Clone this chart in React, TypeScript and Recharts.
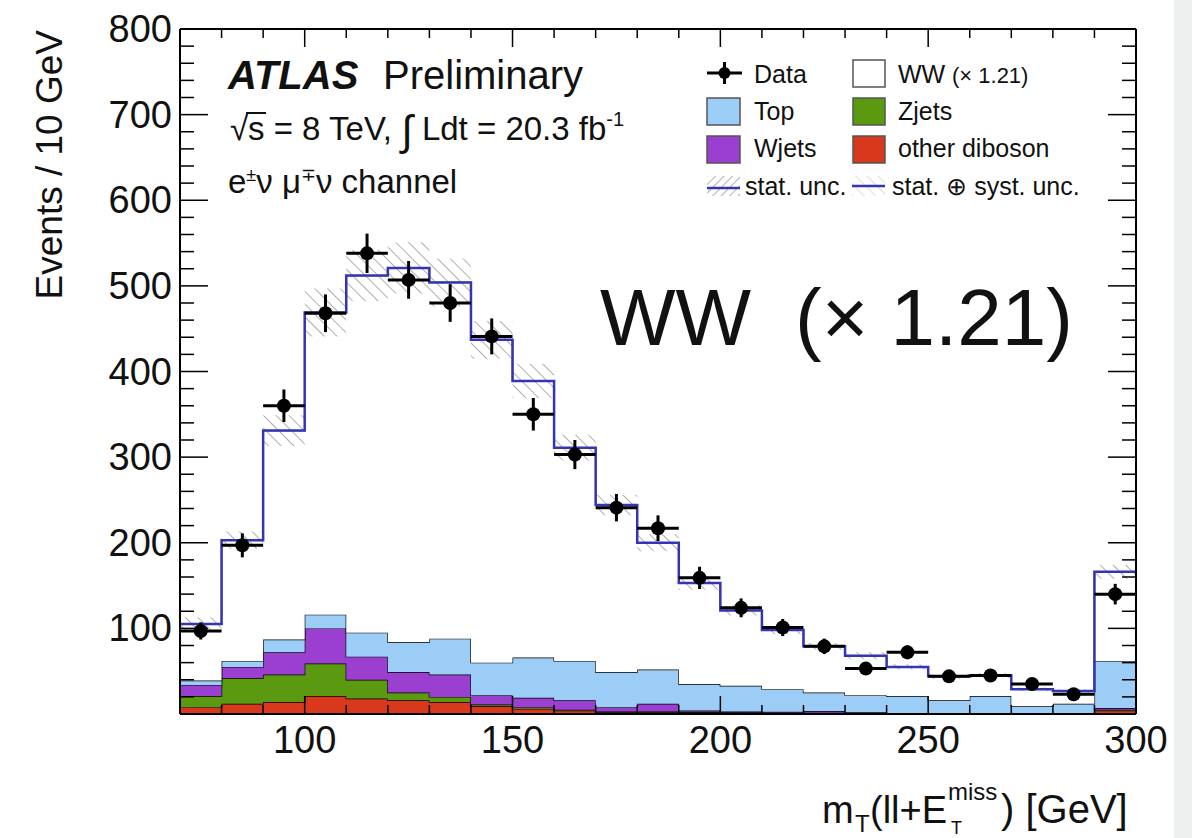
import React from 'react';
import { ComposedChart, Area, Line, Scatter, XAxis, YAxis, ErrorBar } from 'recharts';

const FONT = '"Liberation Sans", Arial, Helvetica, sans-serif';

// ---- data ----
const binLowEdges = [70, 80, 90, 100, 110, 120, 130, 140, 150, 160, 170, 180, 190, 200, 210, 220, 230, 240, 250, 260, 270, 280, 290];
const binCenters = [75, 85, 95, 105, 115, 125, 135, 145, 155, 165, 175, 185, 195, 205, 215, 225, 235, 245, 255, 265, 275, 285, 295];
const xUpperEdge = 300;
const dataCounts = [97, 197, 360, 468, 538, 507, 480, 441, 350, 303, 241, 217, 159, 124, 101, 79, 53, 72, 44, 45, 35, 23, 140];
const dataErrors = [10, 14, 19, 22, 23, 22, 22, 21, 19, 17, 16, 15, 13, 11, 10, 9, 7, 8, 7, 7, 6, 5, 12];
const dataHalfWidth = [5, 5, 5, 5, 5, 5, 5, 5, 5, 5, 5, 5, 5, 5, 5, 5, 5, 5, 5, 5, 5, 5, 5];
const otherDiboson = [8, 12, 14, 21, 18, 16, 14, 9, 6, 4, 2, 2, 2, 1.5, 1, 1, 1, 0.5, 0.5, 0.5, 0.5, 0.5, 4];
const zjets = [13, 30, 32, 38, 22, 9, 6, 2, 2, 1, 1, 1, 0.5, 0.5, 0.5, 0.5, 0, 0, 0, 0, 0, 0, 1];
const wjets = [13, 13, 26, 41, 27, 24, 26, 11, 11, 11, 5, 9, 1.5, 1, 1, 2, 1, 0.5, 0, 0, 0, 0, 2];
const topQuark = [5, 7, 15, 16, 28, 35, 42, 38, 47, 46, 41, 40, 31, 30, 26.5, 21.5, 20, 20, 15.5, 20.5, 8.5, 11.5, 55];
const wwScaled = [66, 141, 244, 353, 417, 437, 416, 377, 323, 249, 195, 148, 118, 88, 69, 54, 46, 34, 28, 24, 20, 15, 104];
const mcUncertainty = [8, 10, 18, 28, 30, 30, 28, 22, 20, 15, 12, 10, 8, 6, 5, 4, 4, 3, 3, 3, 2, 2, 8];

const xTicks = [70, 80, 90, 100, 110, 120, 130, 140, 150, 160, 170, 180, 190, 200, 210, 220, 230, 240, 250, 260, 270, 280, 290, 300];
const xMajorTicks = [100, 150, 200, 250, 300];
const yTicks = [0, 20, 40, 60, 80, 100, 120, 140, 160, 180, 200, 220, 240, 260, 280, 300, 320, 340, 360, 380, 400, 420, 440, 460, 480, 500, 520, 540, 560, 580, 600, 620, 640, 660, 680, 700, 720, 740, 760, 780, 800];
const yMajorTicks = [100, 200, 300, 400, 500, 600, 700, 800];

const COLORS = {
  top: '#9ccdf7',
  wjets: '#9a3fcf',
  zjets: '#5b9a10',
  dib: '#d8381c',
  line: '#3434b4',
};

// table the chart needs (step histogram: each low edge plus the last upper edge)
const histRows = [...binLowEdges, xUpperEdge].map((x, k) => {
  const i = Math.min(k, binLowEdges.length - 1);
  const total = otherDiboson[i] + zjets[i] + wjets[i] + topQuark[i] + wwScaled[i];
  return {
    x,
    dib: otherDiboson[i],
    zj: zjets[i],
    wj: wjets[i],
    top: topQuark[i],
    ww: wwScaled[i],
    total,
    band: [total - mcUncertainty[i], total + mcUncertainty[i]],
  };
});

const dataPoints = binCenters.map((x, i) => ({ x, y: dataCounts[i], ey: dataErrors[i], ex: dataHalfWidth[i] }));

// ---- ticks (ROOT style, inward) ----
const BottomTick = (p: any) => {
  const v = p.payload.value;
  const major = xMajorTicks.includes(v);
  return (
    <g>
      <line x1={p.x} x2={p.x} y1={p.y} y2={p.y - (major ? 18 : 9)} stroke="#000" strokeWidth={1.5} />
      {major && (
        <text x={p.x} y={p.y + 39} textAnchor="middle" fontSize={38} fontFamily={FONT} fill="#111">
          {v}
        </text>
      )}
    </g>
  );
};
const TopTick = (p: any) => {
  const v = p.payload.value;
  const major = xMajorTicks.includes(v);
  return <line x1={p.x} x2={p.x} y1={p.y} y2={p.y + (major ? 18 : 9)} stroke="#000" strokeWidth={1.5} />;
};
const LeftTick = (p: any) => {
  const v = p.payload.value;
  const major = yMajorTicks.includes(v);
  return (
    <g>
      <line x1={p.x} x2={p.x + (major ? 28 : 14)} y1={p.y} y2={p.y} stroke="#000" strokeWidth={1.5} />
      {major && (
        <text x={p.x - 8} y={p.y + 13} textAnchor="end" fontSize={38} fontFamily={FONT} fill="#111">
          {v}
        </text>
      )}
    </g>
  );
};
const RightTick = (p: any) => {
  const v = p.payload.value;
  const major = yMajorTicks.includes(v);
  return <line x1={p.x} x2={p.x - (major ? 28 : 14)} y1={p.y} y2={p.y} stroke="#000" strokeWidth={1.5} />;
};

const DataDot = (p: any) => <circle cx={p.cx} cy={p.cy} r={7} fill="#000" />;

const axisLine = { stroke: '#000', strokeWidth: 2 };

export default function App() {
  return (
    <div style={{ position: 'absolute', left: 0, top: 0, width: 1192, height: 838, background: '#fff', overflow: 'hidden' }}>
      <div style={{ position: 'absolute', left: 1174, top: 0, width: 18, height: 838, background: '#eef0f0' }} />
      <ComposedChart width={1192} height={838} data={histRows} margin={{ top: 28, right: 55, bottom: 64, left: 80 }}>
        <XAxis xAxisId="b" dataKey="x" type="number" domain={[70, 300]} ticks={xTicks} interval={0} orientation="bottom"
          height={60} tickSize={0} tickMargin={0} tickLine={false} axisLine={axisLine} tick={(p: any) => <BottomTick {...p} />} allowDataOverflow />
        <XAxis xAxisId="t" dataKey="x" type="number" domain={[70, 300]} ticks={xTicks} interval={0} orientation="top"
          height={1} tickSize={0} tickMargin={0} tickLine={false} axisLine={axisLine} tick={(p: any) => <TopTick {...p} />} allowDataOverflow />
        <YAxis yAxisId="l" type="number" domain={[0, 800]} ticks={yTicks} interval={0} orientation="left"
          width={100} tickSize={0} tickMargin={0} tickLine={false} axisLine={axisLine} tick={(p: any) => <LeftTick {...p} />} allowDataOverflow />
        <YAxis yAxisId="r" type="number" domain={[0, 800]} ticks={yTicks} interval={0} orientation="right"
          width={1} tickSize={0} tickMargin={0} tickLine={false} axisLine={axisLine} tick={(p: any) => <RightTick {...p} />} allowDataOverflow />

        <Area xAxisId="b" yAxisId="l" type="stepAfter" dataKey="dib" stackId="s" fill={COLORS.dib} fillOpacity={1} stroke="#000" strokeWidth={1.3} isAnimationActive={false} />
        <Area xAxisId="b" yAxisId="l" type="stepAfter" dataKey="zj" stackId="s" fill={COLORS.zjets} fillOpacity={1} stroke="#000" strokeWidth={1.3} isAnimationActive={false} />
        <Area xAxisId="b" yAxisId="l" type="stepAfter" dataKey="wj" stackId="s" fill={COLORS.wjets} fillOpacity={1} stroke="#000" strokeWidth={1.3} isAnimationActive={false} />
        <Area xAxisId="b" yAxisId="l" type="stepAfter" dataKey="top" stackId="s" fill={COLORS.top} fillOpacity={1} stroke="#000" strokeWidth={1.3} isAnimationActive={false} />
        <Area xAxisId="b" yAxisId="l" type="stepAfter" dataKey="ww" stackId="s" fill="#ffffff" fillOpacity={1} stroke="#000" strokeWidth={1.3} isAnimationActive={false} />
        <Area xAxisId="b" yAxisId="l" type="stepAfter" dataKey="band" fill="url(#hatchBand)" fillOpacity={1} stroke="none" isAnimationActive={false} />
        <Line xAxisId="t" yAxisId="r" type="stepAfter" dataKey="total" stroke={COLORS.line} strokeWidth={2.5} dot={false} isAnimationActive={false} />
        <Scatter xAxisId="b" yAxisId="l" data={dataPoints} dataKey="y" shape={(p: any) => <DataDot {...p} />} isAnimationActive={false}>
          <ErrorBar dataKey="ey" direction="y" width={0} stroke="#000" strokeWidth={3} />
          <ErrorBar dataKey="ex" direction="x" width={0} stroke="#000" strokeWidth={3} />
        </Scatter>
      </ComposedChart>

      <svg width={1192} height={838} style={{ position: 'absolute', left: 0, top: 0, pointerEvents: 'none' }} fontFamily={FONT}>
        <defs>
          <pattern id="hatchBand" patternUnits="userSpaceOnUse" width="9" height="9" patternTransform="rotate(-45)">
            <line x1="0" y1="0" x2="0" y2="9" stroke="#8c8c8c" strokeWidth="1.4" />
          </pattern>
          <pattern id="hatchStat" patternUnits="userSpaceOnUse" width="6" height="6" patternTransform="rotate(45)">
            <line x1="0" y1="0" x2="0" y2="6" stroke="#888" strokeWidth="1.3" />
          </pattern>
          <pattern id="hatchSyst" patternUnits="userSpaceOnUse" width="8" height="8" patternTransform="rotate(-45)">
            <line x1="0" y1="0" x2="0" y2="8" stroke="#c4c4c4" strokeWidth="1.2" />
          </pattern>
        </defs>

        {/* y axis title */}
        <text transform="translate(62,30) rotate(-90)" textAnchor="end" fontSize={37} fill="#111">Events / 10 GeV</text>

        {/* x axis title */}
        <text fontSize={38} fill="#111">
          <tspan x={822} y={823}>m</tspan>
          <tspan x={855} y={832} fontSize={24}>T</tspan>
          <tspan x={870} y={823}>(ll+E</tspan>
          <tspan x={948} y={800} fontSize={24}>miss</tspan>
          <tspan x={951} y={834} fontSize={18}>T</tspan>
          <tspan x={1001} y={823} fontSize={40}>) [GeV]</tspan>
        </text>

        {/* ATLAS label */}
        <text x={228} y={89} fontSize={40} fill="#111">
          <tspan fontWeight="bold" fontStyle="italic">ATLAS</tspan>
          <tspan x={383}>Preliminary</tspan>
        </text>
        <text y={140} fontSize={33} fill="#111">
          <tspan x={230}>√</tspan>
          <tspan x={248}>s = 8 TeV, </tspan>
          <tspan fontSize={42} dy={5}>∫</tspan>
          <tspan dy={-5}> Ldt = 20.3 fb</tspan>
          <tspan dy={-14} fontSize={20}>-1</tspan>
        </text>
        <line x1={246} x2={266} y1={113} y2={113} stroke="#111" strokeWidth={2} />
        <text y={193} fontSize={33} fill="#111">
          <tspan x={228}>e</tspan>
          <tspan dy={-12} fontSize={18}>±</tspan>
          <tspan dy={12}>ν μ</tspan>
          <tspan dy={-12} fontSize={18}>∓</tspan>
          <tspan dy={12}>ν channel</tspan>
        </text>

        {/* big WW label */}
        <text y={345} fontSize={80} fill="#111">
          <tspan x={600}>WW</tspan>
          <tspan x={795}>(× 1.21)</tspan>
        </text>

        {/* legend */}
        <g fontSize={25} fill="#111">
          <line x1={707} x2={742} y1={73} y2={73} stroke="#000" strokeWidth={3} />
          <line x1={724.5} x2={724.5} y1={62} y2={84} stroke="#000" strokeWidth={3} />
          <circle cx={724.5} cy={73} r={6} fill="#000" />
          <text x={754} y={83}>Data</text>

          <rect x={853} y={60} width={32} height={27} fill="#fff" stroke="#555" strokeWidth={1.5} />
          <text x={898} y={83}>WW</text>
          <text x={952} y={83} fontSize={22}>(× 1.21)</text>

          <rect x={707} y={98} width={33} height={27} fill={COLORS.top} stroke="#555" strokeWidth={1.5} />
          <text x={754} y={120}>Top</text>
          <rect x={853} y={98} width={32} height={27} fill={COLORS.zjets} stroke="#555" strokeWidth={1.5} />
          <text x={898} y={120}>Zjets</text>

          <rect x={707} y={136} width={33} height={27} fill={COLORS.wjets} stroke="#555" strokeWidth={1.5} />
          <text x={754} y={157}>Wjets</text>
          <rect x={853} y={136} width={32} height={27} fill={COLORS.dib} stroke="#555" strokeWidth={1.5} />
          <text x={898} y={157}>other diboson</text>

          <rect x={707} y={176} width={33} height={20} fill="url(#hatchStat)" />
          <line x1={707} x2={740} y1={188} y2={188} stroke={COLORS.line} strokeWidth={2.5} />
          <text x={745} y={195}>stat. unc.</text>
          <rect x={852} y={176} width={33} height={20} fill="url(#hatchSyst)" />
          <line x1={852} x2={885} y1={186} y2={186} stroke={COLORS.line} strokeWidth={2.5} />
          <text x={892} y={195}>stat. ⊕ syst. unc.</text>
        </g>
      </svg>
    </div>
  );
}
